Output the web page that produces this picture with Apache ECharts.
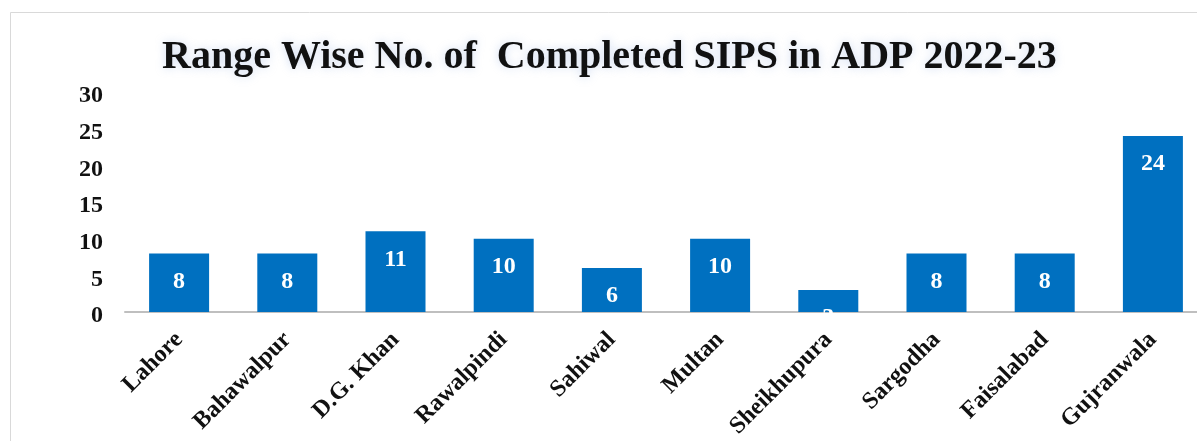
<!DOCTYPE html>
<html><head><meta charset="utf-8">
<script src="https://cdn.jsdelivr.net/npm/echarts@6/dist/echarts.min.js"></script>
<style>html,body{margin:0;padding:0;background:#fff;overflow:hidden}#c{width:1207px;height:441px}</style>
</head><body><div id="c"></div>
<script>
const categories = ['Lahore','Bahawalpur','D.G. Khan','Rawalpindi','Sahiwal','Multan','Sheikhupura','Sargodha','Faisalabad','Gujranwala'];
const values = [8,8,11,10,6,10,3,8,8,24];
const yTicks = [0,5,10,15,20,25,30];
const titleText = 'Range Wise No. of  Completed SIPS in ADP 2022-23';
const serif = '"Liberation Serif","DejaVu Serif",serif';
const chart = echarts.init(document.getElementById('c'));
chart.setOption({
  animation:false,
  backgroundColor:'#fff',
  title:{text:titleText,left:157,top:33,textStyle:{fontFamily:serif,fontWeight:'bold',fontSize:40,color:'#111',textShadowColor:'rgba(190,205,235,0.7)',textShadowBlur:10}},
  graphic:[{type:'polyline',shape:{points:[[10.5,441],[10.5,12.5],[1207,12.5]]},style:{stroke:'#d9d9d9',lineWidth:1,fill:null},silent:true}],
  grid:{left:125,top:92,bottom:128,right:0,containLabel:false},
  xAxis:{type:'category',data:categories,axisLine:{lineStyle:{color:'#bfbfbf',width:2}},axisTick:{show:false},
    axisLabel:{rotate:45,interval:0,margin:24,fontFamily:serif,fontWeight:'bold',fontSize:24,color:'#111'}},
  yAxis:{type:'value',min:yTicks[0],max:yTicks[yTicks.length-1],interval:5,splitLine:{show:false},axisLine:{show:false},axisTick:{show:false},
    axisLabel:{margin:22,formatter:'{a|{value}}',rich:{a:{padding:[8,0,0,0],fontFamily:serif,fontWeight:'bold',fontSize:24,color:'#111'}}}},
  series:[{type:'bar',data:values,barWidth:60,itemStyle:{color:'#0070C0'},
    label:{show:true,position:'insideTop',distance:16,fontFamily:serif,fontWeight:'bold',fontSize:24,color:'#fff'}}]
});
</script></body></html>
